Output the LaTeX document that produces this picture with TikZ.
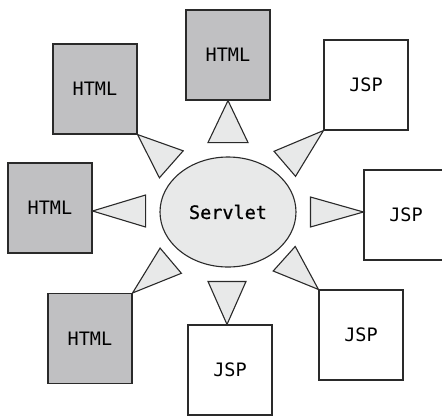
\documentclass[tikz,border=0pt]{standalone}
\usepackage{fontspec}
\newfontfamily\boxfont{DejaVu Sans Mono}
\newfontfamily\srvfont[FakeBold=0.8]{DejaVu Sans Mono}
\usetikzlibrary{shapes.geometric}
\definecolor{pagegray}{HTML}{C0C0C2}
\definecolor{lightgray}{HTML}{E8E9E9}
\definecolor{inkgray}{HTML}{2A2A2A}

\begin{document}
\begin{tikzpicture}[
  x=1pt, y=-1pt,
  font=\boxfont\fontsize{18.5}{22}\selectfont,
  html/.style={rectangle, draw=inkgray, fill=pagegray, line width=1.1pt,
               minimum width=84pt, minimum height=90pt, inner sep=0pt},
  jsp/.style={rectangle, draw=inkgray, fill=white, line width=1.1pt,
              minimum width=84pt, minimum height=90pt, inner sep=0pt},
  servlet/.style={ellipse, draw=inkgray, fill=lightgray, line width=1.1pt,
                  minimum width=136pt, minimum height=110pt, inner sep=0pt,
                  font=\srvfont\fontsize{18.5}{22}\selectfont},
  ptr/.style={isosceles triangle, isosceles triangle stretches, draw=inkgray,
              fill=lightgray, line width=1.1pt, inner sep=0pt, outer sep=0pt,
              anchor=apex},
]
\useasboundingbox (0,0) rectangle (442,416);

% pages round the servlet
\node[html] (htmlA) at (95,89)     {HTML};
\node[html] (htmlB) at (228,55)    {HTML};
\node[jsp]  (jspA)  at (366,85)    {JSP};
\node[jsp]  (jspB)  at (406,215)   {JSP};
\node[html] (htmlC) at (50,208)    {HTML};
\node[html] (htmlD) at (90,338.5)  {HTML};
\node[jsp]  (jspC)  at (230,370)   {JSP};
\node[jsp]  (jspD)  at (361,335)   {JSP};

\node[servlet] (srv) at (228,212) {Servlet};

% pointers from the servlet to each page
\node[ptr, minimum height=45pt, minimum width=36pt, rotate=138.6] (pA) at (htmlA.south east) {};
\node[ptr, minimum height=42pt, minimum width=40pt, rotate=90]    (pB) at (htmlB.south) {};
\node[ptr, minimum height=51pt, minimum width=33pt, rotate=40.7]  (pC) at (jspA.south west) {};
\node[ptr, minimum height=53pt, minimum width=30pt, rotate=0]     (pD) at ([yshift=3pt]jspB.west) {};
\node[ptr, minimum height=53pt, minimum width=32pt, rotate=180]   (pE) at ([yshift=-3pt]htmlC.east) {};
\node[ptr, minimum height=50pt, minimum width=33pt, rotate=220.2] (pF) at (htmlD.north east) {};
\node[ptr, minimum height=43pt, minimum width=38pt, rotate=270]   (pG) at ([xshift=-3pt]jspC.north) {};
\node[ptr, minimum height=46pt, minimum width=33pt, rotate=-41.9] (pH) at (jspD.north west) {};

\end{tikzpicture}
\end{document}
